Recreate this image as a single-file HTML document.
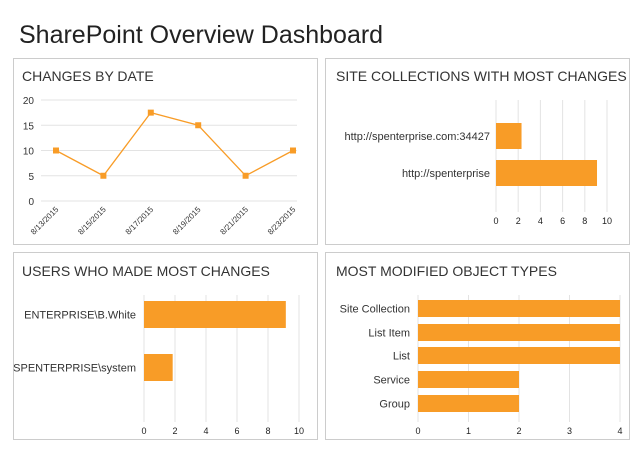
<!DOCTYPE html>
<html><head><meta charset="utf-8"><style>
body{margin:0;width:640px;height:450px;background:#fff;overflow:hidden;font-family:"Liberation Sans",sans-serif}
svg{display:block}
</style></head><body>
<svg id="s" width="640" height="450">
<text x="19" y="43" font-size="25" fill="#222">SharePoint Overview Dashboard</text>
<rect x="13.5" y="58.5" width="304" height="186" fill="none" stroke="#ccc"/>
<rect x="325.5" y="58.5" width="304" height="186" fill="none" stroke="#ccc"/>
<rect x="13.5" y="252.5" width="304" height="187" fill="none" stroke="#ccc"/>
<rect x="325.5" y="252.5" width="304" height="187" fill="none" stroke="#ccc"/>
<text x="22" y="81" font-size="14" fill="#333">CHANGES BY DATE</text>
<text x="336" y="81" font-size="14" fill="#333">SITE COLLECTIONS WITH MOST CHANGES</text>
<text x="22" y="276" font-size="14" fill="#333">USERS WHO MADE MOST CHANGES</text>
<text x="336" y="276" font-size="14" fill="#333">MOST MODIFIED OBJECT TYPES</text>
</svg>
<script>
const lineDates=["8/13/2015","8/15/2015","8/17/2015","8/19/2015","8/21/2015","8/23/2015"];
const lineValues=[10,5,17.5,15,5,10];
const lineTicks=[0,5,10,15,20];
const siteNames=["http://spenterprise.com:34427","http://spenterprise"];
const siteValues=[2.3,9.1];
const siteTicks=[0,2,4,6,8,10];
const userNames=["ENTERPRISE\\B.White","SPENTERPRISE\\system"];
const userValues=[9.15,1.85];
const userTicks=[0,2,4,6,8,10];
const typeNames=["Site Collection","List Item","List","Service","Group"];
const typeValues=[4,4,4,2,2];
const typeTicks=[0,1,2,3,4];
const NS="http://www.w3.org/2000/svg",svg=document.getElementById('s');
const C="#f89c27";
function mk(t,a,txt){const e=document.createElementNS(NS,t);for(const k in a)e.setAttribute(k,a[k]);if(txt!=null)e.textContent=txt;svg.appendChild(e);return e;}
// line chart
const ly=v=>201-(v/20)*101, lx=i=>56+i*(293-56)/(lineDates.length-1);
lineTicks.forEach(t=>{const g=mk('line',{x1:41,x2:297,y1:ly(t),y2:ly(t),stroke:'#e3e3e3'});

const l=mk('text',{x:34,y:ly(t)+4,'font-size':10,'text-anchor':'end',fill:'#333'},t);
});
lineDates.forEach((d,i)=>{const l=mk('text',{x:lx(i)+3,y:210,'font-size':8,'text-anchor':'end',fill:'#333',transform:`rotate(-45 ${lx(i)+3} 210)`},d);
});
const pl=mk('polyline',{points:lineValues.map((v,i)=>lx(i)+','+ly(v)).join(' '),fill:'none',stroke:C,'stroke-width':1.3});

lineValues.forEach((v,i)=>{const p=mk('rect',{x:lx(i)-3,y:ly(v)-3,width:6,height:6,fill:C});
});
// bar chart helper
function bars(names,vals,ticks,x0,x1,top,bot,barYs,barH,lblX,fs,tickY){
 const max=ticks[ticks.length-1],sx=v=>x0+v/max*(x1-x0);
 ticks.forEach(t=>{const g=mk('line',{x1:sx(t),x2:sx(t),y1:top,y2:bot,stroke:'#e3e3e3'});
 
 const l=mk('text',{x:sx(t),y:tickY,'font-size':9,'text-anchor':'middle',fill:'#222'},t);
 });
 names.forEach((n,i)=>{const r=mk('rect',{x:x0,y:barYs[i],width:sx(vals[i])-x0,height:barH,fill:C});
 
 const l=mk('text',{x:lblX,y:barYs[i]+barH/2+4,'font-size':fs,'text-anchor':'end',fill:'#333'},n);
 });
}
bars(siteNames,siteValues,siteTicks,496,607,100,212,[123,160],26,490,11,224);
bars(userNames,userValues,userTicks,144,299,295,422,[301,354],27,136,11,434);
bars(typeNames,typeValues,typeTicks,418,620,295,422,[300,324,347,371,395],17,410,11,434);
</script>
</body></html>
